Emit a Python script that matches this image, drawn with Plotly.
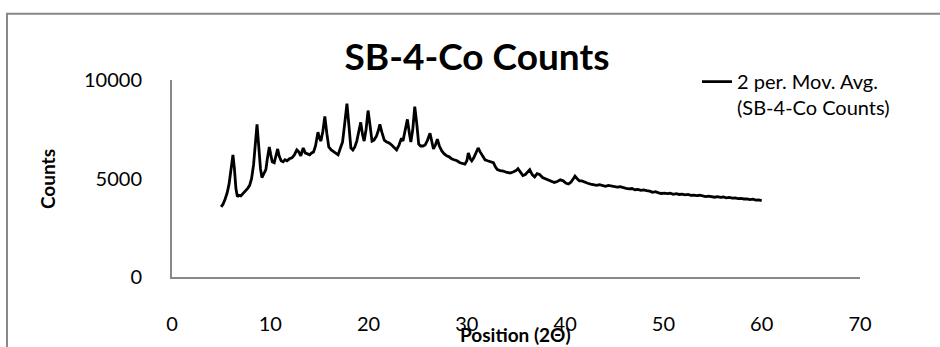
import plotly.graph_objects as go

position = [5.0, 5.2, 5.4, 5.6, 5.8, 6.0, 6.2, 6.35, 6.5, 6.65, 6.8, 7.0, 7.25, 7.5, 7.7, 7.9, 8.1, 8.3, 8.5, 8.65,
            8.8, 9.0, 9.15, 9.35, 9.55, 9.7, 9.9, 10.05, 10.2, 10.4, 10.6, 10.75, 10.9, 11.1, 11.3, 11.5, 11.7, 11.95,
            12.2, 12.45, 12.7, 12.9, 13.1, 13.35, 13.55, 13.8, 14.0, 14.2, 14.4, 14.6, 14.85, 15.0, 15.15, 15.35,
            15.55, 15.75, 15.95, 16.2, 16.45, 16.7, 16.9, 17.1, 17.35, 17.55, 17.8, 18.0, 18.2, 18.4, 18.6, 18.8,
            19.0, 19.2, 19.4, 19.55, 19.75, 19.95, 20.15, 20.35, 20.55, 20.8, 21.0, 21.15, 21.35, 21.6, 21.85, 22.1,
            22.35, 22.6, 22.85, 23.1, 23.35, 23.5, 23.75, 23.95, 24.15, 24.3, 24.5, 24.7, 24.9, 25.1, 25.3, 25.55,
            25.75, 26.0, 26.25, 26.45, 26.6, 26.8, 27.0, 27.2, 27.45, 27.7, 27.95, 28.2, 28.45, 28.7, 29.0, 29.3,
            29.55, 29.8, 30.0, 30.15, 30.35, 30.5, 30.7, 30.9, 31.15, 31.35, 31.6, 31.85, 32.1, 32.4, 32.7, 32.9,
            33.1, 33.4, 33.7, 34.0, 34.4, 34.7, 35.0, 35.2, 35.45, 35.7, 35.95, 36.2, 36.4, 36.65, 36.9, 37.15,
            37.4, 37.7, 38.0, 38.3, 38.6, 38.9, 39.2, 39.5, 39.8, 40.1, 40.35, 40.6, 40.85, 41.0, 41.2, 41.45,
            41.7, 42.0, 42.3, 42.6, 42.9, 43.2, 43.5, 43.8, 44.1, 44.4, 44.7, 45.0, 45.3, 45.6, 45.9, 46.2, 46.5,
            46.8, 47.1, 47.4, 47.7, 48.0, 48.3, 48.6, 48.9, 49.2, 49.5, 49.8, 50.1, 50.4, 50.7, 51.0, 51.3, 51.6,
            51.9, 52.2, 52.5, 52.8, 53.1, 53.4, 53.7, 54.0, 54.3, 54.6, 54.9, 55.2, 55.5, 55.8, 56.1, 56.4, 56.7,
            57.0, 57.3, 57.6, 57.9, 58.2, 58.5, 58.8, 59.1, 59.4, 59.7, 60.0]

counts = [3560, 3700, 3950, 4250, 4700, 5450, 6200, 5500, 4500, 4080, 4150, 4120, 4250, 4350, 4500, 4650, 5000, 5700,
          7000, 7750, 6800, 5500, 5050, 5250, 5450, 6000, 6600, 6200, 5850, 5800, 6300, 6500, 6150, 5900, 5850, 5950,
          5900, 6000, 6050, 6200, 6450, 6350, 6150, 6550, 6300, 6250, 6200, 6300, 6350, 6650, 7350, 7050, 6900, 7400,
          8150, 7300, 6600, 6450, 6350, 6250, 6200, 6500, 6850, 7700, 8800, 7700, 6550, 6450, 6600, 6900, 7300, 7850,
          7200, 6900, 7500, 8450, 7700, 6900, 6950, 7150, 7450, 7750, 7350, 6950, 6850, 6800, 6700, 6550, 6450, 6700,
          7050, 6900, 7500, 8000, 7300, 6850, 7500, 8650, 7800, 6750, 6650, 6650, 6700, 6950, 7300, 6800, 6500, 6700,
          7000, 6650, 6400, 6250, 6150, 6100, 6000, 5950, 5900, 5800, 5750, 5730, 5900, 6300, 6000, 5900, 6050, 6300,
          6550, 6350, 6150, 5950, 5900, 5850, 5800, 5600, 5450, 5400, 5380, 5320, 5280, 5330, 5400, 5500, 5300, 5150,
          5200, 5350, 5450, 5200, 5080, 5250, 5200, 5050, 4980, 4900, 4850, 4800, 4850, 4930, 4880, 4760, 4720, 4820,
          5000, 5120, 5000, 4880, 4880, 4800, 4760, 4720, 4680, 4650, 4690, 4640, 4600, 4650, 4630, 4600, 4560, 4580,
          4520, 4500, 4470, 4490, 4430, 4450, 4400, 4420, 4380, 4360, 4300, 4330, 4270, 4240, 4260, 4230, 4250, 4200,
          4230, 4190, 4210, 4170, 4190, 4140, 4160, 4130, 4150, 4110, 4080, 4100, 4060, 4050, 4080, 4040, 4060, 4020,
          4040, 4000, 4020, 3980, 3990, 3960, 3970, 3930, 3950, 3900, 3910, 3880]

x_ticks = [0, 10, 20, 30, 40, 50, 60, 70]
y_ticks = [0, 5000, 10000]

FONT = "Lato"
W, H = 940, 347
L, R, T, B = 172, 80, 80, 68
PW, PH = W - L - R, H - T - B


def px_x(p):
    return (p - L) / PW


def px_y(p):
    return (H - B - p) / PH


fig = go.Figure()
fig.add_trace(go.Scatter(
    x=position, y=counts, mode="lines",
    name="2 per. Mov. Avg.<br>(SB-4-Co Counts)",
    line=dict(color="black", width=2.8),
))

fig.update_layout(
    width=W, height=H,
    margin=dict(l=L, r=R, t=T, b=B),
    paper_bgcolor="white", plot_bgcolor="white",
    font=dict(family=FONT, size=20, color="black"),
    showlegend=True,
    legend=dict(x=px_x(697), y=px_y(62), xanchor="left", yanchor="top",
                bgcolor="rgba(0,0,0,0)", font=dict(size=20, family=FONT),
                valign="top", tracegroupgap=0, itemwidth=30),
    title=dict(text="<b>SB-4-Co Counts</b>", x=477 / W, xref="container", xanchor="center",
               y=1 - 57 / H, yref="container", yanchor="middle",
               font=dict(size=37, family=FONT, color="black")),
    xaxis=dict(range=[0, 70], tickvals=x_ticks, ticktext=[str(v) for v in x_ticks],
               showgrid=False, zeroline=False, showline=True, linecolor="#888888", linewidth=2,
               ticks="", ticklabelstandoff=28, tickfont=dict(size=20, family=FONT)),
    yaxis=dict(range=[0, 10000], tickvals=y_ticks, ticktext=[str(v) for v in y_ticks],
               showgrid=False, zeroline=False, showline=True, linecolor="#888888", linewidth=2,
               ticks="", ticklabelstandoff=24, tickfont=dict(size=20, family=FONT)),
    annotations=[
        dict(text="<b>Position (2Θ)</b>", xref="paper", yref="paper", x=px_x(515), y=px_y(337),
             xanchor="center", yanchor="middle", showarrow=False, font=dict(size=19, family=FONT)),
        dict(text="<b>Counts</b>", xref="paper", yref="paper", x=px_x(48), y=px_y(180),
             xanchor="center", yanchor="middle", textangle=-90, showarrow=False,
             font=dict(size=19, family=FONT)),
    ],
    shapes=[
        dict(type="rect", xref="paper", yref="paper", x0=px_x(7), x1=px_x(960), y0=px_y(370), y1=px_y(13),
             line=dict(color="#888888", width=2), fillcolor="rgba(0,0,0,0)", layer="below"),
    ],
)

fig.write_html("out.html")
